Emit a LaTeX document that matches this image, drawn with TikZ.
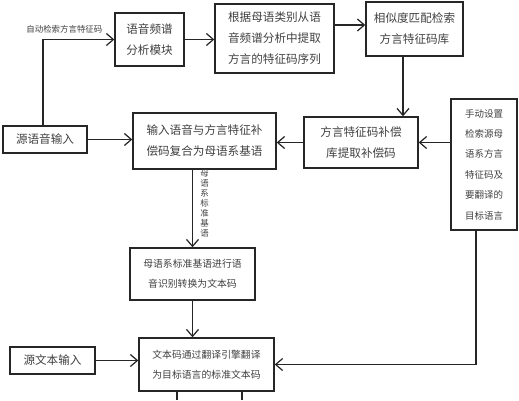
\documentclass[tikz,border=0pt]{standalone}
\usepackage{fontspec}
\newfontfamily\cjk{Noto Sans CJK SC}
\usetikzlibrary{arrows.meta, positioning, calc}

\begin{document}
\begin{tikzpicture}[
    x=0.02cm, y=-0.02cm,
    box/.style={rectangle, draw=black!85, line width=0.8pt, align=center, inner sep=1pt, text=black!75, font=\cjk\fontsize{6.6}{12}\selectfont},
    smallbox/.style={box, font=\cjk\fontsize{5.6}{11.3}\selectfont},
    arr/.style={-{Straight Barb[length=1.4mm, width=2.4mm]}, line width=0.7pt, black!85},
    lbl/.style={font=\cjk\fontsize{4.8}{5.7}\selectfont, text=black!75, inner sep=1pt, align=center},
]
\useasboundingbox (0,0) rectangle (519,400);

\node[box, minimum width=1.68cm, minimum height=0.54cm] (srcspeech) at (45,139.5) {源语音输入};
\node[box, minimum width=1.38cm, minimum height=1.06cm] (spectrum) at (149.5,39.5) {语音频谱\\分析模块};
\node[box, minimum width=2.38cm, minimum height=1.38cm] (extract) at (274.5,38.5) {根据母语类别从语\\音频谱分析中提取\\方言的特征码序列};
\node[box, minimum width=1.94cm, minimum height=1.08cm] (match) at (414.5,29) {相似度匹配检索\\方言特征码库};
\node[box, minimum width=2.86cm, minimum height=1.12cm] (merge) at (204.5,141) {输入语音与方言特征补\\偿码复合为母语系基语};
\node[box, minimum width=2.28cm, minimum height=1.02cm] (comp) at (361,142.5) {方言特征码补偿\\库提取补偿码};
\node[box, minimum width=1.32cm, minimum height=2.62cm, font=\cjk\fontsize{5.4}{11.6}\selectfont] (manual) at (484,164.5) {手动设置\\检索源母\\语系方言\\特征码及\\要翻译的\\目标语言};
\node[smallbox, minimum width=2.5cm, minimum height=1.04cm] (asr) at (192.5,274) {母语系标准基语进行语\\音识别转换为文本码};
\node[smallbox, minimum width=2.7cm, minimum height=1.06cm] (trans) at (206.5,364.5) {文本码通过翻译引擎翻译\\为目标语言的标准文本码};
\node[box, minimum width=1.7cm, minimum height=0.54cm] (srctext) at (52.5,360.5) {源文本输入};

\coordinate (out1) at (177,400);
\coordinate (out2) at (242,400);

% Arrows
\draw[arr] (43,0 |- srcspeech.north) |- node[lbl, above, pos=0.65, yshift=2pt] {自动检索方言特征码} (spectrum.west);
\draw[arr] (spectrum.east) -- (spectrum.east -| extract.west);
\draw[arr] (extract.east |- 0,25) -- (match.west |- 0,25);
\draw[arr] (403,0 |- match.south) -- (403,0 |- comp.north);
\draw[arr] (manual.west |- comp.east) -- (comp.east);
\draw[arr] (comp.west) -- (comp.west -| merge.east);
\draw[arr] (srcspeech.east) -- (srcspeech.east -| merge.west);
\draw[arr] (asr.north |- merge.south) -- node[lbl, right=3pt, text width=5pt, yshift=3pt] {母\\语\\系\\标\\准\\基\\语} (asr.north);
\draw[arr] (asr.south) -- (asr.south |- trans.north);
\draw[arr] (srctext.east) -- (srctext.east -| trans.west);
\draw[arr] (476,0 |- manual.south) |- (trans.east);
\draw[line width=0.7pt, black!85] (out1 |- trans.south) -- (out1);
\draw[line width=0.7pt, black!85] (out2 |- trans.south) -- (out2);

\end{tikzpicture}
\end{document}
